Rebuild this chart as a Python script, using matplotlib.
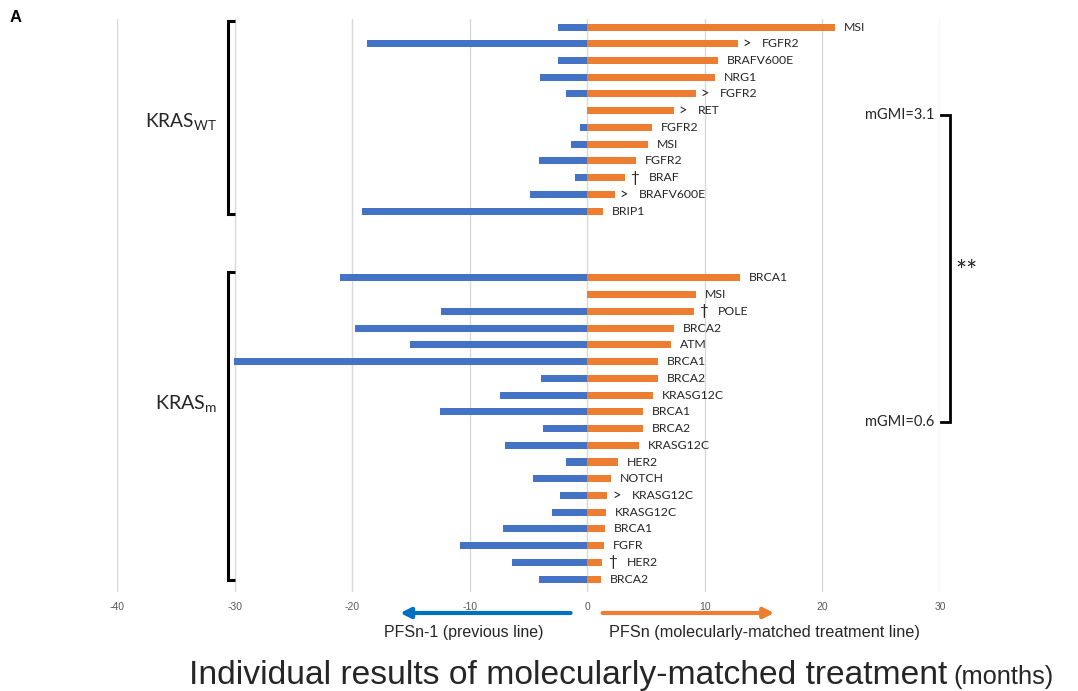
import matplotlib
matplotlib.use("Agg")
import matplotlib.pyplot as plt
from matplotlib import font_manager

# ---------------- data ----------------
wt_genes = ["MSI", "FGFR2", "BRAFV600E", "NRG1", "FGFR2", "RET", "FGFR2", "MSI",
            "FGFR2", "BRAF", "BRAFV600E", "BRIP1"]
wt_prev = [-2.46, -18.71, -2.53, -4.0, -1.85, 0, -0.63, -1.36, -4.12, -1.02, -4.9, -19.14]
wt_curr = [21.03, 12.81, 11.11, 10.83, 9.21, 7.37, 5.53, 5.19, 4.11, 3.17, 2.35, 1.33]
wt_marks = ["", ">", "", "", ">", ">", "", "", "", "†", ">", ""]

m_genes = ["BRCA1", "MSI", "POLE", "BRCA2", "ATM", "BRCA1", "BRCA2", "KRASG12C", "BRCA1",
           "BRCA2", "KRASG12C", "HER2", "NOTCH", "KRASG12C", "KRASG12C", "BRCA1", "FGFR",
           "HER2", "BRCA2"]
m_prev = [-21.01, 0, -12.42, -19.73, -15.05, -30.08, -3.95, -7.4, -12.54, -3.78, -6.97,
          -1.85, -4.63, -2.36, -2.98, -7.18, -10.86, -6.38, -4.14]
m_curr = [12.95, 9.21, 9.04, 7.34, 7.14, 6.04, 6.0, 5.58, 4.73, 4.73, 4.36, 2.6, 2.0,
          1.7, 1.56, 1.47, 1.45, 1.28, 1.19]
m_marks = ["", "", "†", "", "", "", "", "", "", "", "", "", "", ">", "", "", "", "†", ""]

xticks = [-40, -30, -20, -10, 0, 10, 20, 30]
gmi_wt = "mGMI=3.1"
gmi_m = "mGMI=0.6"

# ---------------- style ----------------
BLUE = "#4472C4"
ORANGE = "#ED7D31"
ARROW_BLUE = "#0070C0"
TXT = "#262626"
names = {f.name for f in font_manager.fontManager.ttflist}
NARROW = "Liberation Sans Narrow" if "Liberation Sans Narrow" in names else "Liberation Sans"
LAB = "Lato"
LFS = 8.8
plt.rcParams["mathtext.fontset"] = "custom"
plt.rcParams["mathtext.rm"] = LAB

W, H = 1078, 691
fig = plt.figure(figsize=(W / 100, H / 100), dpi=100)
ax = fig.add_axes([117 / W, 1 - 592 / H, (940 - 117) / W, (592 - 19) / H])

gap = 3
wt_y = list(range(len(wt_genes)))
m_y = [len(wt_genes) + gap + i for i in range(len(m_genes))]

ys = wt_y + m_y
prev = wt_prev + m_prev
curr = wt_curr + m_curr
genes = wt_genes + m_genes
marks = wt_marks + m_marks

bh = 0.42
ax.barh(ys, prev, height=bh, color=BLUE, zorder=3)
ax.barh(ys, curr, height=bh, color=ORANGE, zorder=3)

for y, v, g, mk in zip(ys, curr, genes, marks):
    if mk:
        ax.annotate(mk, xy=(v, y), xytext=(3.4 if mk == ">" else 4.3, 0),
                    textcoords="offset points", va="center", ha="left",
                    fontsize=10.5 if mk == ">" else 11, family=LAB, color=TXT)
        ax.annotate(g, xy=(v, y), xytext=(17.5, 0), textcoords="offset points",
                    va="center", ha="left", fontsize=LFS, family=LAB, color=TXT)
    else:
        ax.annotate(g, xy=(v, y), xytext=(6.5, 0), textcoords="offset points",
                    va="center", ha="left", fontsize=LFS, family=LAB, color=TXT)

ax.set_xlim(-40, 30)
ax.set_ylim(33.77, -0.48)
ax.set_xticks(xticks)
ax.set_xticklabels([str(t) for t in xticks], family=NARROW, fontsize=7.5, color="#595959")
ax.tick_params(axis="x", length=0, pad=7)
ax.set_yticks([])
for s in ax.spines.values():
    s.set_visible(False)
ax.grid(axis="x", color="#D9D9D9", lw=1.0, zorder=0)
ax.set_axisbelow(True)

# left brackets
def lbracket(y0, y1):
    ax.plot([-30.0, -30.59, -30.59, -30.0], [y0, y0, y1, y1], color="black", lw=2.2,
            solid_capstyle="butt", solid_joinstyle="miter", clip_on=False, zorder=4)

lbracket(-0.36, 11.18)
lbracket(14.63, 33.05)
ax.text(-31.5, 5.72, r"KRAS$_{\mathregular{WT}}$", ha="right", va="center",
        fontsize=13.8, family=LAB, color=TXT)
ax.text(-31.5, 22.53, r"KRAS$_{\mathregular{m}}$", ha="right", va="center",
        fontsize=14.2, family=LAB, color=TXT)

# right bracket
ax.plot([30.07, 30.83, 30.83, 30.07], [5.26, 5.26, 23.59, 23.59], color="black", lw=2.0,
        solid_joinstyle="miter", clip_on=False, zorder=4)
ax.text(29.56, 5.26, gmi_wt, ha="right", va="center", fontsize=10.5, family=LAB, color=TXT)
ax.text(29.56, 23.59, gmi_m, ha="right", va="center", fontsize=10.5, family=LAB, color=TXT)
ax.text(32.28, 14.7, "**", ha="center", va="center", fontsize=19, family=LAB,
        color=TXT, clip_on=False)

# arrows under axis
tr = ax.get_xaxis_transform()
yarr = (592 - 613) / 573
ax.annotate("", xy=(-15.92, yarr), xytext=(-1.42, yarr), xycoords=tr, textcoords=tr,
            arrowprops=dict(arrowstyle="-|>,head_length=0.6,head_width=0.3",
                            color=ARROW_BLUE, lw=3, shrinkA=0, shrinkB=0))
ax.annotate("", xy=(15.9, yarr), xytext=(1.3, yarr), xycoords=tr, textcoords=tr,
            arrowprops=dict(arrowstyle="-|>,head_length=0.6,head_width=0.3",
                            color=ORANGE, lw=3, shrinkA=0, shrinkB=0))
ytxt = (592 - 632) / 573
ax.text(-10.53, ytxt, "PFSn-1 (previous line)", transform=tr, ha="center", va="center",
        fontsize=11.5, family=NARROW, color=TXT)
ax.text(1.85, ytxt, "PFSn (molecularly-matched treatment line)", transform=tr,
        ha="left", va="center", fontsize=11.7, family=NARROW, color=TXT)

# panel letter
fig.text(10 / W, 1 - 18 / H, "A", fontsize=12, fontweight="bold", family="Liberation Sans",
         va="center", ha="left", color="black")

# bottom title
t1 = fig.text(189 / W, 1 - 684 / H, "Individual results of molecularly-matched treatment",
              fontsize=24.2, family=NARROW, color=TXT, ha="left", va="baseline")
fig.canvas.draw()
bb = t1.get_window_extent()
fig.text((bb.x1 + 6) / W, 1 - 684 / H, "(months)", fontsize=18.3, family=NARROW,
         color=TXT, ha="left", va="baseline")

fig.savefig("out.png", dpi=100)
